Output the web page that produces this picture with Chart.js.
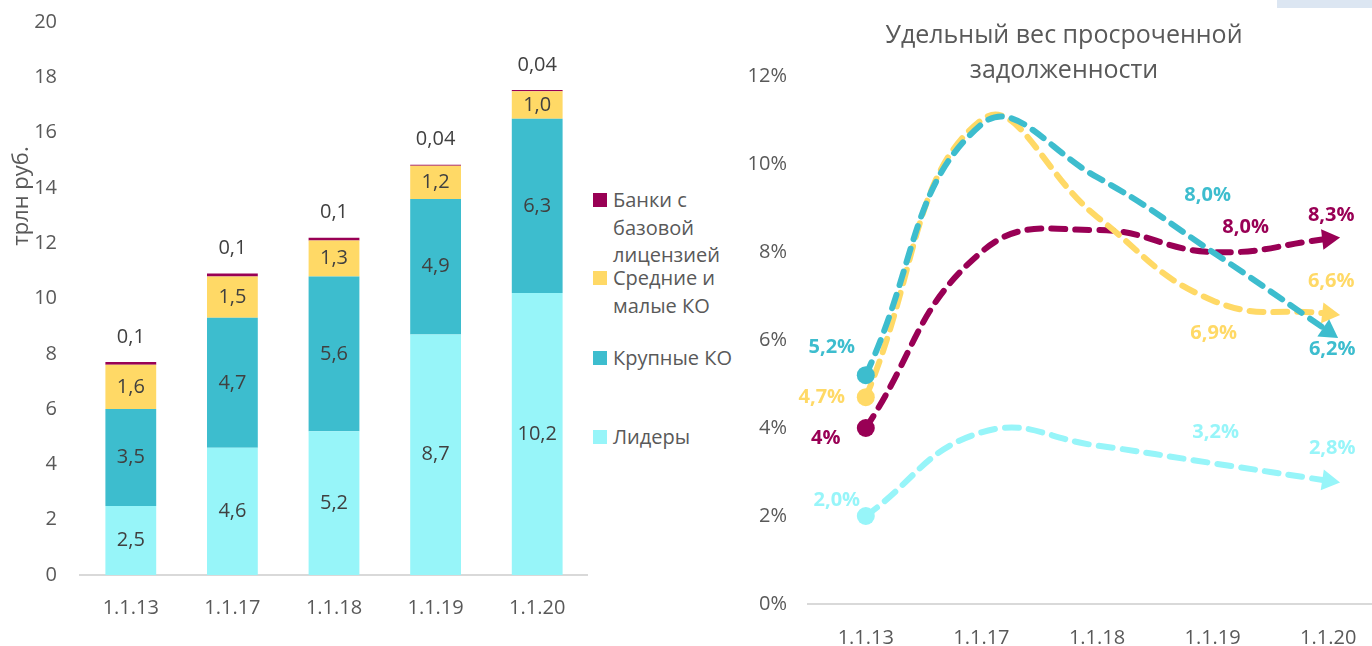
<!DOCTYPE html>
<html lang="ru">
<head>
<meta charset="utf-8">
<title>Банковский сектор: объём и просрочка</title>
<script src="https://cdn.jsdelivr.net/npm/chart.js@4.4.1/dist/chart.umd.min.js"></script>
<style>
    html, body { margin: 0; padding: 0; background: #fff; }
    body { width: 1372px; height: 646px; overflow: hidden; position: relative; font-family: "Open Sans", sans-serif; }
    #barCanvas { position: absolute; left: 0; top: 0; }
    #lineCanvas { position: absolute; left: 730px; top: 0; }
    #legend { position: absolute; left: 593px; top: 0; color: #595959; font-size: 20px; line-height: 27.5px; }
    .item { position: absolute; left: 0; width: 150px; }
    .item i { position: absolute; left: 0; top: 7px; width: 14px; height: 14px; }
    .item span { display: block; margin-left: 20px; width: 128px; }
    #corner { position: absolute; left: 1277px; top: 0; width: 95px; height: 8px; background: #DCE6F2; }
</style>
</head>
<body>
<canvas id="barCanvas" width="588" height="646"></canvas>
<div id="legend"></div>
<canvas id="lineCanvas" width="668" height="646"></canvas>
<div id="corner"></div>
<script>
const categories = ['1.1.13', '1.1.17', '1.1.18', '1.1.19', '1.1.20'];
const seriesNames = ['Лидеры', 'Крупные КО', 'Средние и малые КО', 'Банки с базовой лицензией'];
const seriesColors = ['#97F5F9', '#3DBDCE', '#FFD966', '#990055'];

// Объём кредитов, трлн руб.
const volLeaders = [2.5, 4.6, 5.2, 8.7, 10.2];
const volLarge = [3.5, 4.7, 5.6, 4.9, 6.3];
const volMedium = [1.6, 1.5, 1.3, 1.2, 1.0];
const volBasic = [0.1, 0.1, 0.1, 0.04, 0.04];
const volAxis = { max: 20, step: 2, title: 'трлн руб.' };

// Удельный вес просроченной задолженности, %
const shareLeaders = [2.0, 3.9, 3.6, 3.2, 2.8];
const shareLarge = [5.2, 10.9, 9.7, 8.0, 6.2];
const shareMedium = [4.7, 11.0, 8.8, 6.9, 6.6];
const shareBasic = [4.0, 8.0, 8.5, 8.0, 8.3];
const shareAxis = { max: 12, step: 2 };
const shareTitle = ['Удельный вес просроченной', 'задолженности'];
const shareLabelIdx = [0, 3, 4];
const shareLabelText = { 3: { 0: '4%' } };   // dataset index -> point index -> text

const FONT = '"Open Sans", sans-serif';
const TEXT = '#595959';
const AXIS_LINE = '#D9D9D9';

Chart.defaults.font.family = FONT;
Chart.defaults.color = TEXT;
Chart.defaults.animation = false;
Chart.defaults.events = [];

function fmtVol(v) {
    return (v < 0.1 ? v.toFixed(2) : v.toFixed(1)).replace('.', ',');
}

function fmtShare(v) {
    return v.toFixed(1).replace('.', ',') + '%';
}

/**
 * Bar value labels: centered in segments, top series above the stack
 */
const barLabels = {
    id: 'barLabels',
    afterDatasetsDraw(chart) {
        const ctx = chart.ctx;
        const last = chart.data.datasets.length - 1;
        ctx.save();
        ctx.font = '20px ' + FONT;
        ctx.fillStyle = '#404040';
        ctx.textAlign = 'center';
        ctx.textBaseline = 'middle';
        chart.data.datasets.forEach((ds, i) => {
            chart.getDatasetMeta(i).data.forEach((bar, j) => {
                const y = i === last ? bar.y - 25 : (bar.y + bar.base) / 2;
                ctx.fillText(fmtVol(ds.data[j]), bar.x, y);
            });
        });
        ctx.restore();
    }
};

/**
 * Rotated axis title (placed like the original, above the middle)
 */
const volTitle = {
    id: 'volTitle',
    afterDraw(chart) {
        const ctx = chart.ctx;
        ctx.save();
        ctx.translate(22, 196);
        ctx.rotate(-Math.PI / 2);
        ctx.font = '22px ' + FONT;
        ctx.fillStyle = TEXT;
        ctx.textAlign = 'center';
        ctx.textBaseline = 'middle';
        ctx.fillText(volAxis.title, 0, 0);
        ctx.restore();
    }
};

/**
 * Arrow heads: rotate the last marker along the curve tangent
 */
const arrowHeads = {
    id: 'arrowHeads',
    beforeDatasetsDraw(chart) {
        chart.data.datasets.forEach((ds, i) => {
            const meta = chart.getDatasetMeta(i);
            meta.dataset.updateControlPoints(chart.chartArea, 'x');
            const p = meta.data[meta.data.length - 1];
            const angle = Math.atan2(p.y - p.cp1y, p.x - p.cp1x) * 180 / Math.PI + 90;
            p.options = Object.assign({}, p.options, { rotation: angle });
        });
    }
};

// label offsets from the point, px: [dx, dy] for points 0, 3, 4
const shareLabelOffsets = [
    [[-29, -16], [3, -31], [4, -33]],
    [[-34, -28], [-5, -57], [4, 18]],
    [[-44, 0], [1, 33], [3, -32]],
    [[-40, 10], [33, -25], [3, -24]]
];

const shareLabels = {
    id: 'shareLabels',
    afterDatasetsDraw(chart) {
        const ctx = chart.ctx;
        ctx.save();
        ctx.font = 'bold 20px ' + FONT;
        ctx.textAlign = 'center';
        ctx.textBaseline = 'middle';
        chart.data.datasets.forEach((ds, i) => {
            const meta = chart.getDatasetMeta(i);
            ctx.fillStyle = ds.borderColor;
            shareLabelIdx.forEach((j, k) => {
                const p = meta.data[j];
                const off = shareLabelOffsets[i][k];
                const override = shareLabelText[i] && shareLabelText[i][j];
                ctx.fillText(override || fmtShare(ds.data[j]), p.x + off[0], p.y + off[1]);
            });
        });
        ctx.restore();
    }
};

// Left: stacked bars
const volSeries = [volLeaders, volLarge, volMedium, volBasic];

new Chart(document.getElementById('barCanvas'), {
    type: 'bar',
    data: {
        labels: categories,
        datasets: volSeries.map((data, i) => ({
            label: seriesNames[i],
            data: data,
            backgroundColor: seriesColors[i],
            categoryPercentage: 1,
            barPercentage: 0.5
        }))
    },
    options: {
        responsive: false,
        layout: { padding: { top: 22, right: 0, left: 0, bottom: 0 } },
        plugins: { legend: { display: false }, tooltip: { enabled: false } },
        scales: {
            x: {
                stacked: true,
                grid: { display: false, drawTicks: false },
                border: { color: AXIS_LINE, width: 2 },
                ticks: { font: { size: 20 }, color: TEXT, padding: 21 },
                afterFit: s => { s.height = 71; }
            },
            y: {
                stacked: true,
                min: 0,
                max: volAxis.max,
                grid: { display: false, drawTicks: false },
                border: { display: false },
                ticks: { stepSize: volAxis.step, font: { size: 20 }, color: TEXT, padding: 23 },
                afterFit: s => {
                    s.width = 80;
                    s.paddingTop = 12;
                    s.paddingBottom = 12;
                }
            }
        }
    },
    plugins: [barLabels, volTitle]
});

// Legend (reverse of stack order)
const legendTops = [200, 278, 358, 437];
const legendEl = document.getElementById('legend');
[3, 2, 1, 0].forEach((i, k) => {
    const item = document.createElement('div');
    item.className = 'item';
    item.style.top = (legendTops[k] - 13.75) + 'px';
    item.innerHTML = '<i style="background:' + seriesColors[i] + '"></i><span>' + seriesNames[i] + '</span>';
    legendEl.appendChild(item);
});

// Right: overdue share lines
const shareSeries = [shareLeaders, shareLarge, shareMedium, shareBasic];

new Chart(document.getElementById('lineCanvas'), {
    type: 'line',
    data: {
        labels: categories,
        datasets: shareSeries.map((data, i) => ({
            label: seriesNames[i],
            data: data,
            borderColor: seriesColors[i],
            backgroundColor: seriesColors[i],
            borderWidth: 6,
            borderDash: [14, 10],
            borderCapStyle: 'round',
            tension: 0.45,
            fill: false,
            clip: false,
            pointStyle: ['circle', 'circle', 'circle', 'circle', 'triangle'],
            pointRadius: [9, 0, 0, 0, 12],
            pointBorderWidth: 0,
            pointBackgroundColor: seriesColors[i]
        }))
    },
    options: {
        responsive: false,
        layout: { padding: 0 },
        plugins: {
            legend: { display: false },
            tooltip: { enabled: false },
            title: {
                display: true,
                text: shareTitle,
                color: TEXT,
                font: { size: 25, weight: 'normal', lineHeight: 1.4 },
                padding: { top: 18, bottom: -12 }
            }
        },
        scales: {
            x: {
                offset: true,
                grid: { display: false, drawTicks: false },
                border: { color: AXIS_LINE, width: 2 },
                ticks: { font: { size: 20 }, color: TEXT, padding: 22 },
                afterFit: s => { s.height = 42; }
            },
            y: {
                min: 0,
                max: shareAxis.max,
                grid: { display: false, drawTicks: false },
                border: { display: false },
                ticks: { stepSize: shareAxis.step, font: { size: 20 }, color: TEXT, padding: 21, callback: v => v + '%' },
                afterFit: s => { s.width = 78; }
            }
        }
    },
    plugins: [arrowHeads, shareLabels]
});
</script>
</body>
</html>
